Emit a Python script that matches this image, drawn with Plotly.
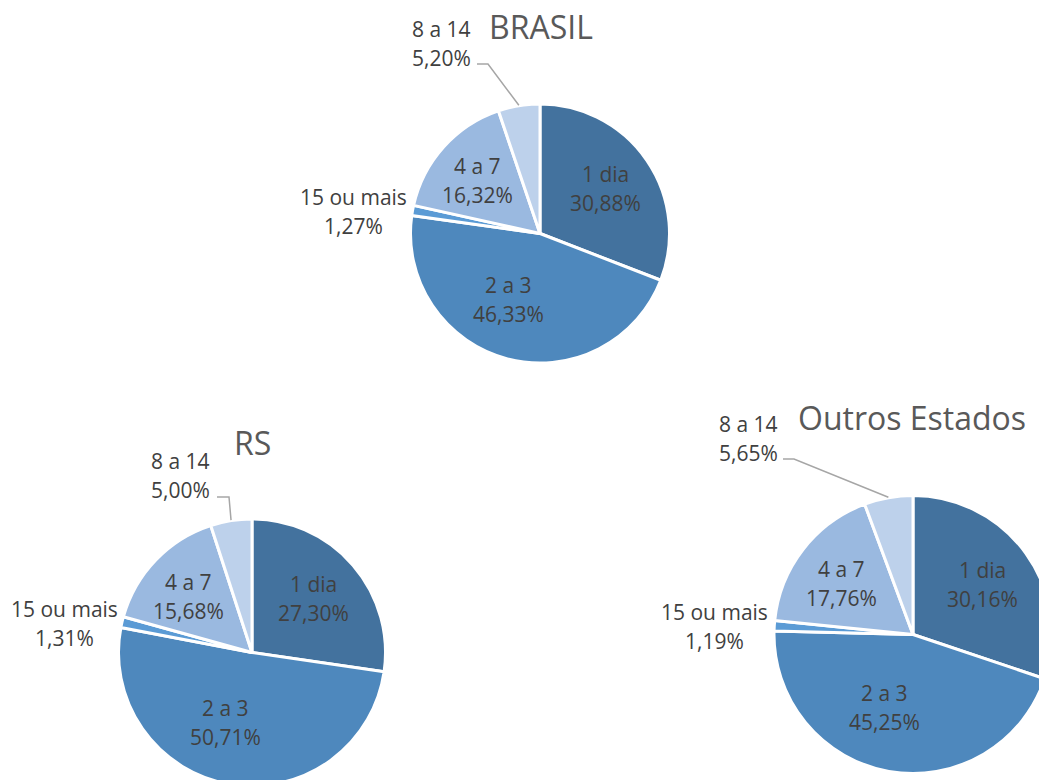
import math
import plotly.graph_objects as go

# ---------------- data ----------------
categories = ["1 dia", "2 a 3", "15 ou mais", "4 a 7", "8 a 14"]
brasil = [30.88, 46.33, 1.27, 16.32, 5.20]
rs = [27.30, 50.71, 1.31, 15.68, 5.00]
outros = [30.16, 45.25, 1.19, 17.76, 5.65]
titles = ["BRASIL", "RS", "Outros Estados"]

# ---------------- style / layout ----------------
colors = ["#43729E", "#4E88BD", "#5B9BD5", "#9AB9E0", "#BDD1EB"]
W, H = 1060, 800
FONT = "Open Sans"
LABEL_COLOR = "#404040"
TITLE_COLOR = "#595959"
LINE_W = 3
LINE_GAP = 29          # px between the two lines of a data label
# inside-label placement per slice: (radius fraction, angle shift in degrees)
inside_pos = {0: (0.62, 0), 1: (0.57, 11), 3: (0.64, -2)}

# pixel geometry of each pie: center x, center y, visible radius
pies = [
    dict(vals=brasil, title=titles[0], cx=540, cy=233.5, r=128,
         title_xy=(541, 27),
         out_labels={4: (-99, -190.5, (-63, -169.5), (-52, -169.5)),
                     2: (-187, -22.5, None, None)}),
    dict(vals=rs, title=titles[1], cx=252, cy=652.5, r=132,
         title_xy=(252.5, 442),
         out_labels={4: (-72, -177, (-35, -155.5), (-23, -155.5)),
                     2: (-188, -29.5, None, None)}),
    dict(vals=outros, title=titles[2], cx=913, cy=634.5, r=137.5,
         title_xy=(912, 417),
         out_labels={4: (-165, -196.5, (-130, -175.5), (-119, -175.5)),
                     2: (-199, -8, None, None)}),
]


def px(x):
    return x / W


def py(y):
    return 1 - y / H


def fmt(v):
    return f"{v:.2f}".replace(".", ",") + "%"


def label(x, y, lines, size=21):
    out = []
    n = len(lines)
    for k, t in enumerate(lines):
        yy = y + (k - (n - 1) / 2) * LINE_GAP
        out.append(dict(
            x=px(x), y=py(yy), xref="paper", yref="paper",
            xanchor="center", yanchor="middle", text=t, showarrow=False,
            font=dict(family=FONT, size=size, color=LABEL_COLOR)))
    return out


fig = go.Figure()
annotations = []
shapes = []

for p in pies:
    R = p["r"] + LINE_W / 2
    fig.add_trace(go.Pie(
        labels=categories, values=p["vals"], sort=False,
        direction="clockwise", rotation=0,
        marker=dict(colors=colors, line=dict(color="white", width=LINE_W)),
        textinfo="none", hoverinfo="label+percent", showlegend=False,
        domain=dict(x=[px(p["cx"] - R), px(p["cx"] + R)],
                    y=[py(p["cy"] + R), py(p["cy"] - R)]),
    ))
    total = sum(p["vals"])
    cum = 0.0
    for i, v in enumerate(p["vals"]):
        mid = (cum + v / 2) / total
        cum += v
        th = 2 * math.pi * mid
        lines = [categories[i], fmt(v)]
        if i in p["out_labels"]:
            dx, dy, e1, e2 = p["out_labels"][i]
            annotations += label(p["cx"] + dx, p["cy"] + dy, lines)
            if e1 is not None:
                ex = p["cx"] + (p["r"] + 2) * math.sin(th)
                ey = p["cy"] - (p["r"] + 2) * math.cos(th)
                path = (f"M {px(p['cx'] + e1[0])} {py(p['cy'] + e1[1])} "
                        f"L {px(p['cx'] + e2[0])} {py(p['cy'] + e2[1])} "
                        f"L {px(ex)} {py(ey)}")
                shapes.append(dict(type="path", path=path, xref="paper", yref="paper",
                                   line=dict(color="#A6A6A6", width=1.5)))
        else:
            frac, shift = inside_pos.get(i, (0.62, 0))
            lr = frac * p["r"]
            a = th + math.radians(shift)
            annotations += label(p["cx"] + lr * math.sin(a), p["cy"] - lr * math.cos(a), lines)
    annotations.append(dict(
        x=px(p["title_xy"][0]), y=py(p["title_xy"][1]), xref="paper", yref="paper",
        xanchor="center", yanchor="middle",
        text=p["title"], showarrow=False,
        font=dict(family=FONT, size=32, color=TITLE_COLOR)))

fig.update_layout(
    width=W, height=H, margin=dict(l=0, r=0, t=0, b=0),
    paper_bgcolor="white", plot_bgcolor="white",
    annotations=annotations, shapes=shapes,
    font=dict(family=FONT),
)

fig.write_html(
    "out.html",
    config={"displayModeBar": False},
    post_script="document.body.style.margin='0';document.body.style.overflow='hidden';",
)
